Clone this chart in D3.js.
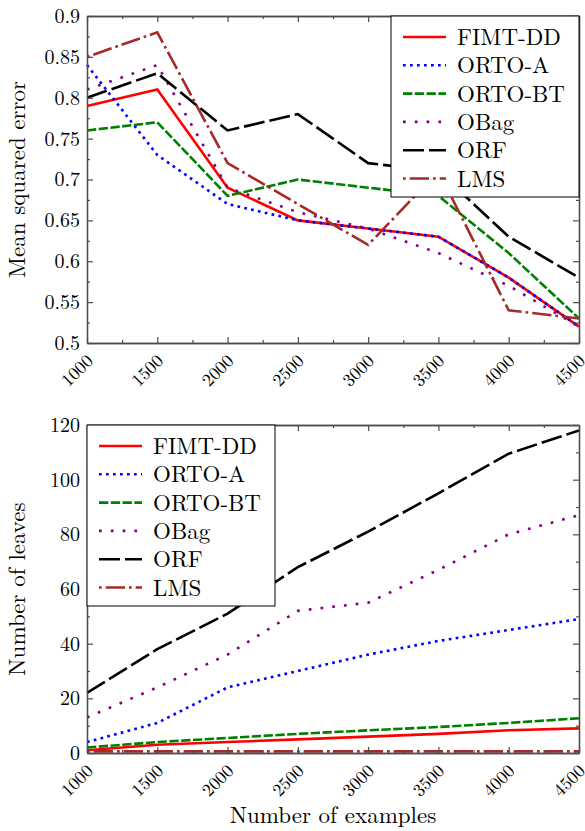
<!DOCTYPE html>
<html>
<head>
<meta charset="utf-8">
<script src="https://d3js.org/d3.v7.min.js"></script>
<style>
  body { margin: 0; background: #fff; }
</style>
</head>
<body>
<div id="viz"></div>
<script>
// x values (number of examples)
var examples = [1000, 1500, 2000, 2500, 3000, 3500, 4000, 4500];
var seriesNames = ["FIMT-DD", "ORTO-A", "ORTO-BT", "OBag", "ORF", "LMS"];

// top chart: mean squared error
var mseFIMT = [0.79, 0.81, 0.69, 0.65, 0.64, 0.63, 0.58, 0.52];
var mseORTOA = [0.84, 0.73, 0.67, 0.65, 0.64, 0.63, 0.58, 0.52];
var mseORTOBT = [0.76, 0.77, 0.68, 0.70, 0.69, 0.68, 0.61, 0.53];
var mseOBag = [0.81, 0.84, 0.69, 0.66, 0.64, 0.61, 0.57, 0.52];
var mseORF = [0.80, 0.83, 0.76, 0.78, 0.72, 0.71, 0.63, 0.58];
var mseLMS = [0.85, 0.88, 0.72, 0.67, 0.62, 0.71, 0.54, 0.53];

// bottom chart: number of leaves
var leavesFIMT = [1, 3, 4, 5, 6, 7, 8.3, 9];
var leavesORTOA = [4, 11, 24, 30, 36, 41, 45, 49];
var leavesORTOBT = [2, 4, 5.5, 7, 8.3, 9.5, 11, 12.7];
var leavesOBag = [13, 24, 36, 52, 55, 67, 80, 87];
var leavesORF = [22, 38, 51, 68, 81, 95, 109.5, 118];
var leavesLMS = [0.6, 0.6, 0.6, 0.6, 0.6, 0.6, 0.6, 0.6];

// tick labels
var xTicks = [1000, 1500, 2000, 2500, 3000, 3500, 4000, 4500];
var xMinor = [1250, 1750, 2250, 2750, 3250, 3750, 4250];
var mseTicks = [0.5, 0.55, 0.6, 0.65, 0.7, 0.75, 0.8, 0.85, 0.9];
var mseMinor = [0.525, 0.575, 0.625, 0.675, 0.725, 0.775, 0.825, 0.875];
var leavesTicks = [0, 20, 40, 60, 80, 100, 120];
var leavesMinor = [10, 30, 50, 70, 90, 110];

var styles = [
  {color: "#ff0000", dash: null},
  {color: "#0000ff", dash: "2.7,4.3"},
  {color: "#008000", dash: "9.3,2.5"},
  {color: "#800080", dash: "2.7,9.1"},
  {color: "#000000", dash: "21,5"},
  {color: "#a52a2a", dash: "2.7,4,19.3,4"}
];

// Computer Modern look-alike
var serifFont = "'Latin Modern Roman', serif";

var svg = d3.select("#viz").append("svg")
  .attr("width", 585)
  .attr("height", 831);

var left = 87, right = 579;
var axisColor = "#4d4d4d";

function drawPanel(top, bottom, yDomain, yTicks, yMinorTicks, series, yTitle, legendX, legendY) {
  var x = d3.scaleLinear().domain([1000, 4500]).range([left, right]);
  var y = d3.scaleLinear().domain(yDomain).range([bottom, top]);
  var g = svg.append("g");

  var line = d3.line()
    .x(function(d) { return x(d[0]); })
    .y(function(d) { return y(d[1]); });

  series.forEach(function(vals, i) {
    var pts = examples.map(function(e, j) { return [e, vals[j]]; });
    g.append("path")
      .attr("d", line(pts))
      .attr("fill", "none")
      .attr("stroke", styles[i].color)
      .attr("stroke-width", 2.6)
      .attr("stroke-dasharray", styles[i].dash);
  });

  // frame with inward ticks on every side
  function styleAxis(sel) {
    sel.select(".domain").attr("stroke", axisColor).attr("stroke-width", 1.3);
    sel.selectAll(".tick line").attr("stroke", axisColor).attr("stroke-width", 1.2);
  }
  g.append("g").attr("transform", "translate(0," + bottom + ")")
    .call(d3.axisBottom(x).tickValues(xTicks).tickSize(-6).tickSizeOuter(0).tickFormat(""))
    .call(styleAxis);
  g.append("g").attr("transform", "translate(0," + bottom + ")")
    .call(d3.axisBottom(x).tickValues(xMinor).tickSize(-3).tickSizeOuter(0).tickFormat(""))
    .call(styleAxis);
  g.append("g").attr("transform", "translate(0," + top + ")")
    .call(d3.axisTop(x).tickValues(xTicks).tickSize(-6).tickSizeOuter(0).tickFormat(""))
    .call(styleAxis);
  g.append("g").attr("transform", "translate(0," + top + ")")
    .call(d3.axisTop(x).tickValues(xMinor).tickSize(-3).tickSizeOuter(0).tickFormat(""))
    .call(styleAxis);
  var yAxis = g.append("g").attr("transform", "translate(" + left + ",0)")
    .call(d3.axisLeft(y).tickValues(yTicks).tickSize(-6).tickSizeOuter(0).tickPadding(7).tickFormat(function(d) { return String(d); }))
    .call(styleAxis);
  yAxis.selectAll("text")
    .style("font-family", serifFont)
    .style("font-size", "20px")
    .attr("fill", "#000");
  g.append("g").attr("transform", "translate(" + left + ",0)")
    .call(d3.axisLeft(y).tickValues(yMinorTicks).tickSize(-3).tickSizeOuter(0).tickFormat(""))
    .call(styleAxis);
  g.append("g").attr("transform", "translate(" + right + ",0)")
    .call(d3.axisRight(y).tickValues(yTicks).tickSize(-6).tickSizeOuter(0).tickFormat(""))
    .call(styleAxis);
  g.append("g").attr("transform", "translate(" + right + ",0)")
    .call(d3.axisRight(y).tickValues(yMinorTicks).tickSize(-3).tickSizeOuter(0).tickFormat(""))
    .call(styleAxis);

  // rotated x tick labels
  g.selectAll(".xlab")
    .data(xTicks)
    .enter().append("text")
    .attr("class", "xlab")
    .style("font-family", serifFont)
    .style("font-size", "18px")
    .attr("text-anchor", "end")
    .attr("transform", function(d) { return "translate(" + (x(d) + 7) + "," + (bottom + 19) + ") rotate(-45)"; })
    .text(function(d) { return d; });

  // y title
  g.append("text")
    .style("font-family", serifFont)
    .style("font-size", "23px")
    .attr("text-anchor", "middle")
    .attr("transform", "translate(25," + ((top + bottom) / 2) + ") rotate(-90)")
    .text(yTitle);

  // legend
  var lg = g.append("g").attr("transform", "translate(" + legendX + "," + legendY + ")");
  lg.append("rect")
    .attr("width", 188).attr("height", 181)
    .attr("fill", "#fff").attr("stroke", "#000").attr("stroke-width", 1);
  seriesNames.forEach(function(name, i) {
    var ly = 21 + i * 28.3;
    lg.append("line")
      .attr("x1", 12).attr("x2", 55)
      .attr("y1", ly).attr("y2", ly)
      .attr("stroke", styles[i].color)
      .attr("stroke-width", 2.6)
      .attr("stroke-dasharray", styles[i].dash);
    lg.append("text")
      .style("font-family", serifFont)
      .style("font-size", "23px")
      .attr("x", 66).attr("y", ly + 8)
      .text(name);
  });
}

drawPanel(16, 343, [0.5, 0.9], mseTicks, mseMinor,
  [mseFIMT, mseORTOA, mseORTOBT, mseOBag, mseORF, mseLMS],
  "Mean squared error", 391, 16);

drawPanel(425, 753, [0, 120], leavesTicks, leavesMinor,
  [leavesFIMT, leavesORTOA, leavesORTOBT, leavesOBag, leavesORF, leavesLMS],
  "Number of leaves", 87, 425);

svg.append("text")
  .style("font-family", serifFont)
  .style("font-size", "23px")
  .attr("x", (left + right) / 2)
  .attr("y", 823)
  .attr("text-anchor", "middle")
  .text("Number of examples");
</script>
</body>
</html>
